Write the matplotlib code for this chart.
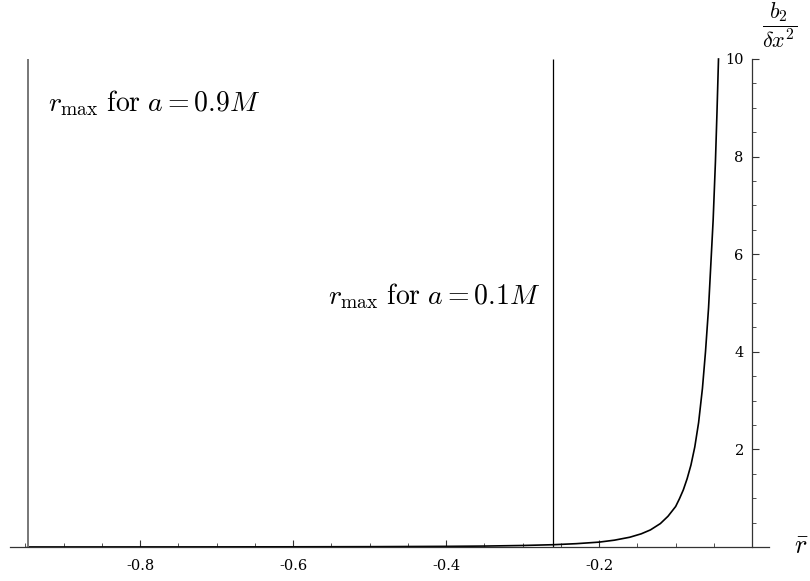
import matplotlib.pyplot as plt
import numpy as np

plt.rcParams['mathtext.fontset'] = 'cm'

r_bar = np.array([-0.947, -0.9, -0.8, -0.7, -0.6, -0.5, -0.4, -0.35, -0.3, -0.26,
                  -0.23, -0.2, -0.18, -0.16, -0.145, -0.133, -0.12, -0.11, -0.1,
                  -0.095, -0.09, -0.085, -0.08, -0.075, -0.07, -0.065, -0.061,
                  -0.057, -0.054, -0.051, -0.048, -0.046, -0.044])
b2 = np.array([0.001, 0.0011, 0.0016, 0.0024, 0.0038, 0.0066, 0.013, 0.019, 0.031, 0.047,
               0.068, 0.1, 0.14, 0.2, 0.27, 0.35, 0.48, 0.63, 0.83,
               0.99, 1.17, 1.4, 1.68, 2.05, 2.55, 3.25, 4.0,
               4.9, 5.8, 6.7, 7.9, 8.9, 10.0])

# positions of r_max for the two spins
r_max = [-0.947, -0.26]
spin_labels = [r'$r_{\max}\ \mathrm{for}\ a = 0.9M$', r'$r_{\max}\ \mathrm{for}\ a = 0.1M$']

fig = plt.figure(figsize=(8.1, 5.81), dpi=100)
ax = fig.add_axes([10 / 810, 34 / 581, 759 / 810, 488 / 581])

ax.plot(r_bar, b2, color='black', lw=1.2, clip_on=False)
ax.vlines(r_max[0], 0, 10, color='#777777', lw=1.4)
ax.vlines(r_max[1], 0, 10, color='black', lw=0.9)

ax.text(-0.92, 9.1, spin_labels[0], fontsize=20, ha='left', va='center')
ax.text(-0.277, 5.15, spin_labels[1], fontsize=20, ha='right', va='center')

ax.set_xlim(-0.97, 0.022)
ax.set_ylim(0, 10)

# axes crossing at the origin, Mathematica style
for side in ['top', 'right']:
    ax.spines[side].set_visible(False)
ax.spines['left'].set_position(('data', 0))
ax.spines['bottom'].set_position(('data', 0))
for side in ['left', 'bottom']:
    ax.spines[side].set_linewidth(0.9)
    ax.spines[side].set_color('#333333')

ax.set_xticks([-0.8, -0.6, -0.4, -0.2])
ax.set_xticklabels(['-0.8', '-0.6', '-0.4', '-0.2'])
ax.set_xticks(np.arange(-0.95, 0.0, 0.05), minor=True)
ax.set_yticks([2, 4, 6, 8, 10])
ax.set_yticklabels(['2', '4', '6', '8', '10'])
ax.set_yticks(np.arange(0.5, 10.0, 0.5), minor=True)

ax.tick_params(which='both', direction='in', colors='#333333', labelcolor='black')
ax.tick_params(which='major', length=5, width=0.8)
ax.tick_params(which='minor', length=3, width=0.6)
ax.tick_params(axis='x', pad=9)
ax.tick_params(axis='y', pad=6)
for lab in ax.get_xticklabels() + ax.get_yticklabels():
    lab.set_family('DejaVu Serif')
    lab.set_fontsize(10.5)

fig.text(801 / 810, 1 - 547 / 581, r'$\bar{r}$', fontsize=19, ha='center', va='center')
fig.text(780 / 810, 1 - 25 / 581, r'$\dfrac{b_2}{\delta x^2}$', fontsize=16, ha='center', va='center')

fig.savefig('out.png', dpi=100)
